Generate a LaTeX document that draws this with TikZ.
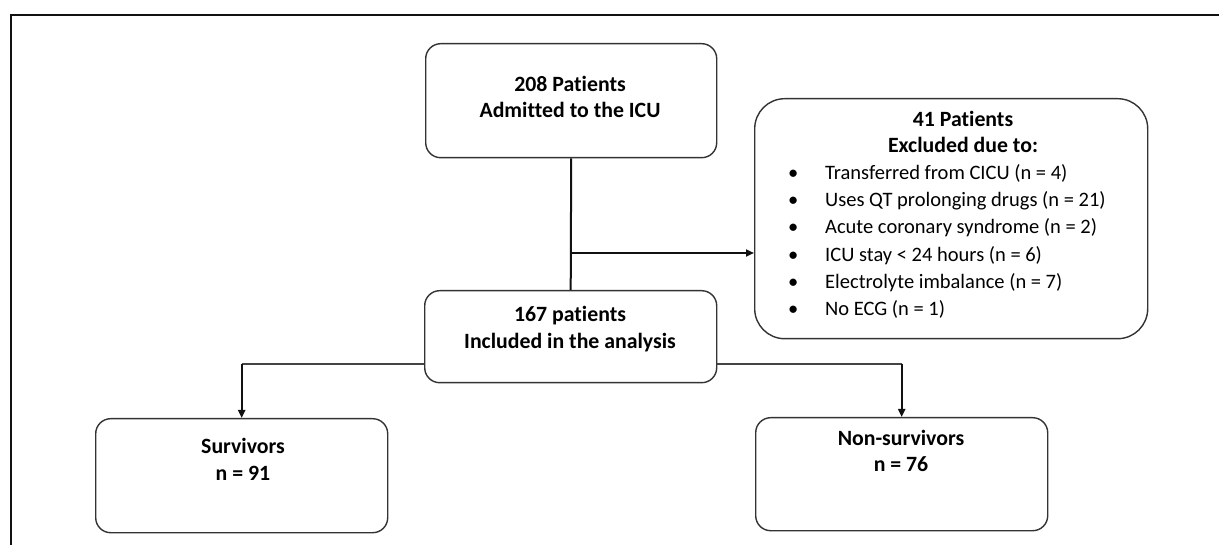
\documentclass[tikz,border=0pt]{standalone}
\usepackage{fontspec}
\setmainfont[Ligatures=NoCommon]{Carlito}
\usetikzlibrary{arrows.meta}
\definecolor{boxc}{HTML}{333333}
\definecolor{linec}{HTML}{111111}
\definecolor{thinc}{HTML}{444444}
\begin{document}
\begin{tikzpicture}[x=1pt,y=-1pt,
  box/.style={draw=boxc, line width=1.4pt, rounded corners=15pt, inner sep=0pt, anchor=north west},
  bigbox/.style={box, rounded corners=30pt},
  txt/.style={inner sep=0pt, align=center, font=\fontsize{21.8}{26.8}\selectfont\bfseries},
  listtxt/.style={inner sep=0pt, align=left, font=\fontsize{20.5}{27.3}\selectfont},
  main/.style={draw=linec, line width=2pt},
  thinline/.style={draw=thinc, line width=1.5pt},
  arr/.style={-{Triangle[length=8pt,width=7pt]}},
  frameline/.style={draw=linec, line width=1.4pt}]
\useasboundingbox (0,0) rectangle (1219,545);
% frame
\draw[frameline] (10,15) -- (1219,15);
\draw[frameline] (11,15) -- (11,545);
% boxes
\node[box, minimum width=291pt, minimum height=114pt] (top) at (425,43) {};
\node[box, minimum width=292pt, minimum height=92pt] (incl) at (424,290) {};
\node[bigbox, minimum width=393pt, minimum height=240pt] (excl) at (754,98) {};
\node[box, minimum width=292pt, minimum height=114pt] (surv) at (95,418) {};
\node[box, minimum width=292pt, minimum height=113pt] (nons) at (755,417) {};
% texts
\node[txt] (toptxt) at (570,97) {208 Patients\\Admitted to the ICU};
\node[txt] (incltxt) at (570,329) {167 patients\\Included in the analysis};
\node[txt] (excltxt) at (963,132) {41 Patients\\Excluded due to:};
\node[listtxt, anchor=north west] (excllist) at (788,164) {%
\makebox[37pt][l]{•}Transferred from CICU (n = 4)\\
\makebox[37pt][l]{•}Uses QT prolonging drugs (n = 21)\\
\makebox[37pt][l]{•}Acute coronary syndrome (n = 2)\\
\makebox[37pt][l]{•}ICU stay < 24 hours (n = 6)\\
\makebox[37pt][l]{•}Electrolyte imbalance (n = 7)\\
\makebox[37pt][l]{•}No ECG (n = 1)};
\node[txt] (survtxt) at (243,459) {Survivors\\n = 91};
\node[txt] (nonstxt) at (901,451) {Non-survivors\\n = 76};
% connectors
\draw[main] (top.south) -- (incl.north);
\coordinate (j) at (571,253);
\draw[main,arr] (j) -- (j -| excl.west);
\coordinate (yl) at (0,364);
\coordinate (bl) at (incl.west |- yl);
\coordinate (br) at (incl.east |- yl);
\draw[thinline] (bl) -- (bl -| surv.north);
\draw[main,arr] (bl -| surv.north) -- (surv.north);
\draw[thinline] (br) -- (br -| nons.north);
\draw[main,arr] (br -| nons.north) -- (nons.north);
\end{tikzpicture}
\end{document}
